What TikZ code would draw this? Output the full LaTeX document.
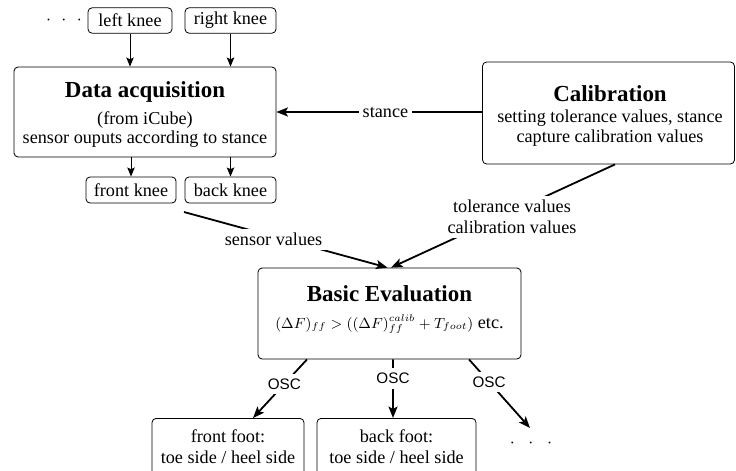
\documentclass[tikz,border=0pt]{standalone}
\usepackage[no-math]{fontspec}
\setmainfont{Liberation Serif}
\setsansfont{Liberation Sans}
\usetikzlibrary{arrows.meta,calc}

\begin{document}
\begin{tikzpicture}[x=0.61pt,y=-0.61pt,
  font=\rmfamily\fontsize{11.1}{12.6}\selectfont,
  box/.style={draw, line width=0.5pt, rounded corners=2.5pt, inner sep=0pt},
  knee/.style={box, minimum height=15.5pt},
  line/.style={anchor=base, inner sep=0pt},
  title/.style={line, font=\rmfamily\bfseries\fontsize{14}{16}\selectfont},
  flow/.style={line width=1.1pt, -{Stealth[length=7pt,width=5.5pt,inset=1.5pt]}},
  feed/.style={line width=0.6pt, -{Stealth[length=5.5pt,width=4.5pt,inset=1pt]}},
  tag/.style={fill=white, inner sep=2.5pt},
  osc/.style={tag, inner sep=3pt, font=\sffamily\fontsize{9.3}{11}\selectfont},
  dots/.style={inner sep=0pt}
]
\useasboundingbox (0,0) rectangle (736,470);

% sensor inputs
\node[dots] (d1) at (64,21) {$\cdot$\hspace{6.4pt}$\cdot$\hspace{6.4pt}$\cdot$};
\node[knee, minimum width=51.2pt] (lk) at (130,20.5) {left knee};
\node[knee, minimum width=55.5pt] (rk) at (230.5,20.5) {right knee};

% acquisition
\node[box, minimum width=159.8pt, minimum height=54.9pt] (da) at (145,112) {};
\node[title] (da1) at (145,97) {Data acquisition};
\node[line] (da2) at (145,124) {(from iCube)};
\node[line] (da3) at (145,143) {sensor ouputs according to stance};
\node[knee, minimum width=54.9pt, minimum height=15.9pt] (fk) at (131,190) {front knee};
\node[knee, minimum width=55.5pt, minimum height=15.9pt] (bk) at (230.5,190) {back knee};

% calibration
\node[box, minimum width=153.7pt, minimum height=62.2pt] (cal) at (608.5,113) {};
\node[title] (cal1) at (610,101) {Calibration};
\node[line] (cal2) at (610,122) {setting tolerance values, stance};
\node[line] (cal3) at (610,142) {capture calibration values};

% evaluation
\node[box, minimum width=160.4pt, minimum height=55.5pt] (be) at (389.5,313.5) {};
\node[title] (be1) at (389.5,301) {Basic Evaluation};
\node[line] (be2) at (389.5,328)
  {{\fontsize{9.2}{11}\selectfont$(\Delta F)_{ff} > ((\Delta F)_{ff}^{calib} + T_{foot})$} etc.};

% outputs
\node[box, anchor=north, minimum width=92.7pt, minimum height=40pt] (ff) at (228,418) {};
\node[line] (ff1) at (228,442) {front foot:};
\node[line] (ff2) at (228,463) {toe side / heel side};
\node[box, anchor=north, minimum width=97pt, minimum height=40pt] (bf) at (396.5,418) {};
\node[line] (bf1) at (396.5,442) {back foot:};
\node[line] (bf2) at (396.5,463) {toe side / heel side};
\node[dots] (d2) at (531,444) {$\cdot$\hspace{8.3pt}$\cdot$\hspace{8.3pt}$\cdot$};

% connectors
\draw[feed] (lk) -- (lk |- da.north);
\draw[feed] (rk) -- (rk |- da.north);
\draw[feed] (fk |- da.south) -- (fk);
\draw[feed] (bk |- da.south) -- (bk);

\draw[flow] (cal.west |- da.east) -- node[tag, pos=0.47] {stance} (da.east);

\coordinate (sv) at (184,212);
\draw[flow] (sv) -- node[tag, pos=0.44, yshift=-2pt] {sensor values} ($(be.north)+(-2,0)$);
\draw[flow] ($(cal.south)+(6.5,0)$) -- node[tag, pos=0.46, yshift=-3pt, align=center]
  {tolerance values\\calibration values} ($(be.north)+(1.5,0)$);

\draw[flow] ($(be.south)+(-82.5,0)$) -- node[osc, pos=0.42] {OSC} ($(ff.north)+(25,0)$);
\draw[flow] ($(be.south)+(3.5,0)$) -- node[osc, pos=0.33] {OSC} ($(bf.north)+(-3.5,0)$);
\draw[flow] ($(be.south)+(79.5,0)$) -- node[osc, pos=0.33] {OSC} ($(d2)+(-1,-16)$);
\end{tikzpicture}
\end{document}
